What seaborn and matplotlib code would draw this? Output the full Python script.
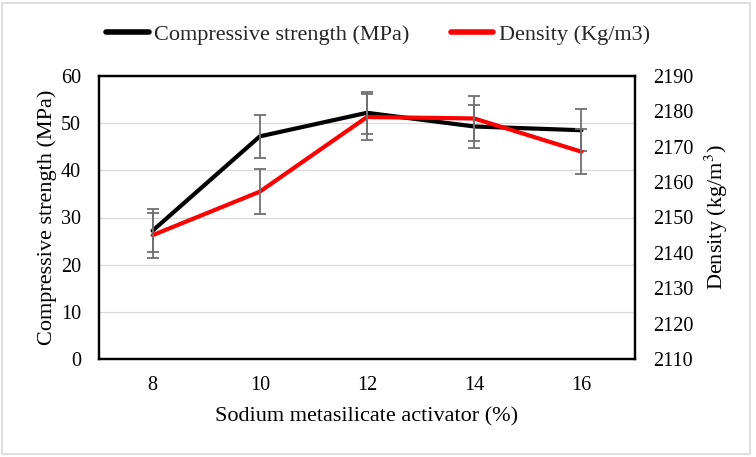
import matplotlib
matplotlib.use("Agg")
import matplotlib.pyplot as plt
import seaborn as sns
import pandas as pd
import numpy as np
from matplotlib.patches import Rectangle
from matplotlib.lines import Line2D

activator = [8, 10, 12, 14, 16]
strength = [27.2, 47.2, 52.2, 49.3, 48.5]
strength_err = [4.5, 4.5, 4.5, 4.5, 4.5]
density = [2145.0, 2157.3, 2178.4, 2178.0, 2168.6]
density_err = [6.4, 6.4, 6.4, 6.4, 6.4]

df = pd.DataFrame({"activator": activator, "strength": strength, "density": density})

sns.set_theme(style="white")
plt.rcParams["font.family"] = ["Liberation Serif", "DejaVu Serif"]
plt.rcParams["mathtext.fontset"] = "stix"

fig = plt.figure(figsize=(7.56, 4.57), dpi=100)
ax = fig.add_axes([99/756, 1-359/457, 536/756, 283/457])
ax2 = ax.twinx()

sns.lineplot(data=df, x="activator", y="strength", ax=ax, color="black", linewidth=3.0, zorder=3)
ax.errorbar(activator, strength, yerr=strength_err, fmt="none", ecolor="#707070",
            elinewidth=1.3, capsize=4, capthick=1.3, zorder=4)

sns.lineplot(data=df, x="activator", y="density", ax=ax2, color="#ff0000", linewidth=3.0, zorder=3)
ax2.errorbar(activator, density, yerr=density_err, fmt="none", ecolor="#707070",
             elinewidth=1.3, capsize=4, capthick=1.3, zorder=4)

ax.set_xlim(7, 17)
ax.set_xticks(activator)
ax.set_xticklabels([str(v) for v in activator])
ax.set_ylim(0, 60)
ax.set_yticks(np.arange(0, 61, 10))
ax2.set_ylim(2110, 2190)
ax2.set_yticks(np.arange(2110, 2191, 10))

ax.yaxis.grid(True, color="#d9d9d9", linewidth=0.9)
ax.set_axisbelow(True)

for a in (ax, ax2):
    for s in a.spines.values():
        s.set_color("black")
        s.set_linewidth(1.6)
    a.tick_params(axis="both", which="both", length=0, labelsize=14.5, colors="black", pad=13)

ax.tick_params(axis="x", pad=12)
ax.set_xlabel("Sodium metasilicate activator (%)", fontsize=16, color="black", labelpad=9)
ax.set_ylabel("Compressive strength (MPa)", fontsize=16, color="black", labelpad=3)
ax2.set_ylabel("Density (kg/m$^3$)", fontsize=16, color="black", labelpad=7)

handles = [Line2D([0], [0], color="black", lw=4),
           Line2D([0], [0], color="#ff0000", lw=4)]
fig.legend(handles, ["Compressive strength (MPa)", "Density (Kg/m3)"],
           loc="center", bbox_to_anchor=(378/756, 1-35/457), ncol=2, frameon=False,
           fontsize=16, handlelength=1.9, handletextpad=0.23, columnspacing=1.9)

fig.patches.append(Rectangle((2/756, 1-454/457), 748/756, 451/457, transform=fig.transFigure,
                             fill=False, edgecolor="#d9d9d9", linewidth=1.2))

fig.savefig("out.png", dpi=100)
